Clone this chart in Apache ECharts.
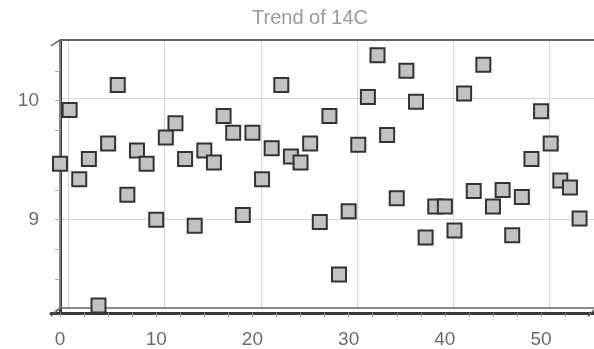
<!DOCTYPE html>
<html>
<head>
<meta charset="utf-8">
<script src="https://cdn.jsdelivr.net/npm/echarts@6/dist/echarts.min.js"></script>
<style>
  html, body { margin: 0; padding: 0; background: #fff; }
  #trend_14c { width: 594px; height: 349px; }
</style>
</head>
<body>
<div id="trend_14c"></div>
<script>
var sampleIdx = [0, 1, 2, 3, 4, 5, 6, 7, 8, 9,
    10, 11, 12, 13, 14, 15, 16, 17, 18, 19,
    20, 21, 22, 23, 24, 25, 26, 27, 28, 29,
    30, 31, 32, 33, 34, 35, 36, 37, 38, 39,
    40, 41, 42, 43, 44, 45, 46, 47, 48, 49,
    50, 51, 52, 53, 54];
var c14Values = [9.47, 9.92, 9.34, 9.51, 8.28, 9.64, 10.13, 9.21, 9.58, 9.47,
    9.00, 9.69, 9.81, 9.51, 8.95, 9.58, 9.48, 9.87, 9.73, 9.04,
    9.73, 9.34, 9.60, 10.13, 9.53, 9.48, 9.64, 8.98, 9.87, 8.54,
    9.07, 9.63, 10.03, 10.38, 9.71, 9.18, 10.25, 9.99, 8.85, 9.11,
    9.11, 8.91, 10.06, 9.24, 10.30, 9.11, 9.25, 8.87, 9.19, 9.51,
    9.91, 9.64, 9.33, 9.27, 9.01];
var xLabels = [0, 10, 20, 30, 40, 50];
var xMinorTicks = [0, 2.5, 5, 7.5, 10, 12.5, 15, 17.5, 20, 22.5, 25, 27.5, 30, 32.5,
    35, 37.5, 40, 42.5, 45, 47.5, 50, 52.5, 55];
var yLabels = [9, 10];
var yMinorTicks = [8.25, 8.5, 8.75, 9, 9.25, 9.5, 9.75, 10, 10.25];

var trendChart = {
    $chart: null,

    init: function() {
        this.$chart = echarts.init(document.getElementById("trend_14c"));
        this.render();
    },

    render: function() {
        var pts = [];
        for (var i = 0; i < sampleIdx.length; i++) {
            pts.push([sampleIdx[i], c14Values[i]]);
        }
        var font = "'Liberation Sans', Arial, sans-serif";
        var frame = { stroke: '#555', lineWidth: 1.5 };

        var option = {
            animation: false,
            title: {
                text: 'Trend of 14C',
                left: 247,
                top: 3,
                textStyle: { fontSize: 20, fontWeight: 'normal', color: '#9a9a9a', fontFamily: font }
            },
            grid: [
                // front plane: data, labels, thick axis lines
                { left: 51, right: 0, top: 41, bottom: 34 },
                // back plane: only the grid lines
                { left: 60, right: 0, top: 40, bottom: 41 }
            ],
            xAxis: [
                {
                    type: 'value', gridIndex: 0, min: -0.936, max: 55.5,
                    axisLine: { show: true, lineStyle: { color: '#3a3a3a', width: 3 } },
                    axisTick: { show: true, customValues: xMinorTicks, length: 4, lineStyle: { color: '#999' } },
                    axisLabel: { customValues: xLabels, margin: 17, fontSize: 19, color: '#6a6a6a', fontFamily: font },
                    splitLine: { show: false }
                },
                {
                    type: 'value', gridIndex: 1, min: -0.884, max: 54.63,
                    axisLine: { show: true, onZero: false, lineStyle: { color: '#666', width: 1.5 } },
                    axisTick: { show: false, customValues: xLabels },
                    axisLabel: { show: false },
                    splitLine: { show: true, lineStyle: { color: '#d6d6d6', width: 1 } }
                }
            ],
            yAxis: [
                {
                    type: 'value', gridIndex: 0, min: 8.2167, max: 10.5,
                    axisLine: { show: true, lineStyle: { color: '#3a3a3a', width: 3 } },
                    axisTick: { show: true, customValues: yMinorTicks, length: 5, lineStyle: { color: '#aaa' } },
                    axisLabel: { customValues: yLabels, margin: 12, fontSize: 19, color: '#6a6a6a', fontFamily: font },
                    splitLine: { show: false }
                },
                {
                    type: 'value', gridIndex: 1, min: 8.264, max: 10.479,
                    axisLine: { show: true, onZero: false, lineStyle: { color: '#999', width: 1.5 } },
                    axisTick: { show: false, customValues: yLabels },
                    axisLabel: { show: false },
                    splitLine: { show: true, lineStyle: { color: '#d6d6d6', width: 1 } }
                }
            ],
            graphic: [
                // top edge of the back wall and the 3d corner joints
                { type: 'line', shape: { x1: 60, y1: 40, x2: 594, y2: 40 }, style: { stroke: '#666', lineWidth: 2 }, z: 5 },
                { type: 'line', shape: { x1: 51, y1: 46, x2: 60, y2: 40 }, style: frame, z: 5 },
                { type: 'line', shape: { x1: 51, y1: 316, x2: 60, y2: 308 }, style: frame, z: 5 },
                { type: 'line', shape: { x1: 588, y1: 316, x2: 596, y2: 308 }, style: frame, z: 5 }
            ],
            series: [{
                name: '14C',
                type: 'scatter',
                xAxisIndex: 0,
                yAxisIndex: 0,
                data: pts,
                symbol: 'rect',
                symbolSize: 14,
                itemStyle: { color: '#c2c2c2', borderColor: '#333', borderWidth: 2, opacity: 1 },
                z: 10
            }]
        };
        this.$chart.setOption(option);
    }
};

trendChart.init();
</script>
</body>
</html>
